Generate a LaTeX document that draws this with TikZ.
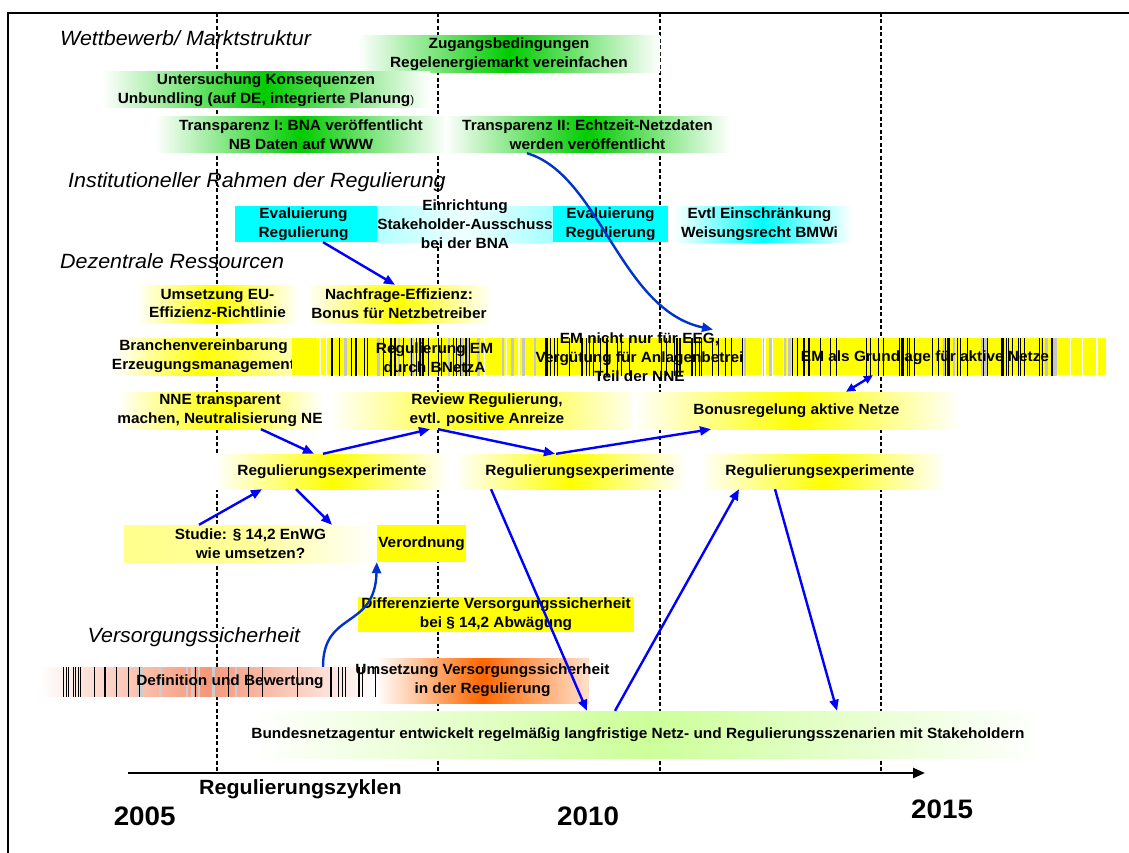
\documentclass[tikz,border=0pt]{standalone}
\usepackage{fontspec}
\setmainfont{Liberation Sans}[FakeStretch=1.04]
\usetikzlibrary{arrows.meta,calc}
\definecolor{grn}{RGB}{0,204,0}
\definecolor{lgrn}{RGB}{204,255,153}
\definecolor{org}{RGB}{255,102,0}
\definecolor{salm}{RGB}{246,150,120}
\definecolor{cyn}{RGB}{0,255,255}
\definecolor{ylw}{RGB}{255,255,0}
\definecolor{arrblue}{RGB}{0,0,255}
\definecolor{curveblue}{RGB}{0,51,204}
\begin{document}
\begin{tikzpicture}[x=1pt,y=-1pt,
  lb/.style={align=center,font=\bfseries\fontsize{14.8}{18.8}\selectfont,inner sep=0pt},
  box/.style={rectangle,inner sep=0pt,draw=none},
  gbox/.style={box,left color=white,right color=white,middle color=grn},
  ybox/.style={box,left color=white,right color=white,middle color=ylw},
  cbox/.style={box,left color=white,right color=white,middle color=cyn},
  hd/.style={anchor=base west,inner sep=0pt,font=\itshape\fontsize{20.6}{22}\selectfont},
  yr/.style={anchor=base west,inner sep=0pt,font=\bfseries\fontsize{26.7}{28}\selectfont},
  arr/.style={draw=arrblue,line width=2.4pt,-{Triangle[length=11pt,width=9pt]}},
  carr/.style={arr,draw=curveblue},
  dashline/.style={line width=1.8pt,dash pattern=on 4pt off 2.5pt}
]
\useasboundingbox (0,0) rectangle (1129,853);
\fill[white] (0,0) rectangle (1129,853);

% headings
\node[hd] (h1) at (60,46) {Wettbewerb/ Marktstruktur};
\node[hd] (h2) at (68,188) {Institutioneller Rahmen der Regulierung};
\node[hd] (h3) at (60,268) {Dezentrale Ressourcen};
\node[hd] (h4) at (87.5,642) {Versorgungssicherheit};

% frame and dashed cycle lines
\draw[line width=2.5pt] (8,853) -- (8,13) -- (1129,13);
\foreach \x in {217,438,660,881} \draw[dashline] (\x,13) -- (\x,773);

% Wettbewerb
\node[gbox,minimum width=302pt,minimum height=37pt,label={[lb]center:{Zugangsbedingungen\\Regelenergiemarkt vereinfachen}}] (zug) at (509,54.5) {};
\node[gbox,minimum width=328pt,minimum height=36pt,label={[lb]center:{Untersuchung Konsequenzen\\Unbundling (auf DE, integrierte Planung{\mdseries\fontsize{11}{11}\selectfont )}}}] (unb) at (266,90) {};
\node[gbox,minimum width=292pt,minimum height=36pt,label={[lb]center:{Transparenz I: BNA veröffentlicht\\NB Daten auf WWW}}] (tr1) at (301,135) {};
\node[gbox,minimum width=285pt,minimum height=36pt,label={[lb]center:{Transparenz II: Echtzeit-Netzdaten\\werden veröffentlicht}}] (tr2) at (587.5,135) {};

% Institutioneller Rahmen
\node[box,fill=cyn,minimum width=142pt,minimum height=36pt,label={[lb,xshift=-2.5pt]center:{Evaluierung\\Regulierung}}] (eval1) at (306,224) {};
\node[box,left color=cyn!30,right color=cyn!35,middle color=cyn!6,minimum width=176pt,minimum height=36pt,label={[lb]center:{Einrichtung\\Stakeholder-Ausschuss\\bei der BNA}}] (einr) at (465,224) {};
\node[box,fill=cyn,minimum width=115pt,minimum height=36pt,label={[lb]center:{Evaluierung\\Regulierung}}] (eval2) at (610.5,224) {};
\node[cbox,minimum width=179pt,minimum height=36pt,label={[lb,xshift=-3pt]center:{Evtl Einschränkung\\Weisungsrecht BMWi}}] (evtl) at (762.5,224) {};

% Dezentrale Ressourcen
\node[ybox,minimum width=163pt,minimum height=37pt,label={[lb]center:{Umsetzung EU-\\Effizienz-Richtlinie}}] (ums) at (217.5,303.5) {};
\node[ybox,minimum width=186pt,minimum height=37pt,label={[lb]center:{Nachfrage-Effizienz:\\Bonus für Netzbetreiber}}] (nach) at (399,303.5) {};

\node[box,left color=white,right color=ylw!30,middle color=ylw,minimum width=177pt,minimum height=37pt,label={[lb]center:{Branchenvereinbarung\\Erzeugungsmanagement}}] (bran) at (203.5,356.5) {};

\node[box,fill=ylw,minimum width=814pt,minimum height=37pt,
  path picture={
    \pgfmathsetseed{3}
    \foreach \a/\b/\n in {40/180/10,180/245/5,450/500/5,500/770/8}{
      \foreach \i in {1,...,\n}{
        \pgfmathsetmacro\sx{\a+(\b-\a)*rnd}
        \fill[gray!45] ($(path picture bounding box.north west)+(\sx,0)$) rectangle ++(2.5,40);
      }}
    \foreach \a/\b/\n in {0/38/5,180/245/5,450/500/6,770/814/5}{
      \foreach \i in {1,...,\n}{
        \pgfmathsetmacro\sx{\a+(\b-\a)*rnd}
        \draw[white,line width=1pt] ($(path picture bounding box.north west)+(\sx,0)$) -- ++(0,40);
      }}
    \foreach \a/\b/\n in {38/180/30,245/450/40,500/770/50}{
      \foreach \i in {1,...,\n}{
        \pgfmathsetmacro\sx{\a+(\b-\a)*rnd}
        \draw[black,line width=0.6pt] ($(path picture bounding box.north west)+(\sx,0)$) -- ++(0,40);
      }}
  }] (emband) at (699,356.5) {};
\node[lb] (regem) at (434.5,358) {Regulierung EM\\durch BNetzA};
\node[lb] (emnicht) at (639.5,357) {EM nicht nur für EEG,\\Vergütung für Anlagenbetrei\\Teil der NNE};
\node[lb] (emaktiv) at (925,358) {EM als Grundlage für aktive Netze};

\node[ybox,minimum width=206pt,minimum height=37pt,label={[lb]center:{NNE transparent\\machen, Neutralisierung NE}}] (nne) at (220,410.5) {};
\node[ybox,minimum width=314pt,minimum height=37pt,label={[lb]center:{Review Regulierung,\\evtl. positive Anreize}}] (rev) at (487,410.5) {};
\node[ybox,minimum width=329pt,minimum height=37pt,label={[lb]center:{Bonusregelung aktive Netze}}] (bonus) at (796.5,410.5) {};

\node[ybox,minimum width=234pt,minimum height=35pt,label={[lb]center:{Regulierungsexperimente}}] (reg1) at (332,471.5) {};
\node[ybox,minimum width=231pt,minimum height=35pt,label={[lb,xshift=9.5pt]center:{Regulierungsexperimente}}] (reg2) at (570.5,471.5) {};
\node[ybox,minimum width=246pt,minimum height=35pt,label={[lb,xshift=-3pt]center:{Regulierungsexperimente}}] (reg3) at (823,471.5) {};

\node[box,left color=ylw!45,right color=white,middle color=ylw!40,minimum width=253pt,minimum height=37pt,label={[lb]center:{Studie: § 14,2 EnWG\\wie umsetzen?}}] (studie) at (250.5,543.5) {};
\node[box,fill=ylw,minimum width=89pt,minimum height=37pt,label={[lb]center:{Verordnung}}] (verord) at (421.5,543.5) {};

% Versorgungssicherheit
\node[box,fill=ylw,minimum width=276pt,minimum height=35pt,label={[lb]center:{Differenzierte Versorgungssicherheit\\bei § 14,2 Abwägung}}] (diff) at (496,614.5) {};

\node[box,left color=white,right color=white,middle color=salm,minimum width=337pt,minimum height=29pt,
  path picture={
    \pgfmathsetseed{5}
    \foreach \i in {1,...,10}{
      \pgfmathsetmacro\sx{93+112*rnd}
      \fill[gray!40] ($(path picture bounding box.north west)+(\sx,0)$) rectangle ++(2.5,32);
    }
    \foreach \a/\b/\n in {0/93/14,93/282/6,282/337/10}{
      \foreach \i in {1,...,\n}{
        \pgfmathsetmacro\sx{\a+(\b-\a)*rnd}
        \draw[black,line width=0.6pt] ($(path picture bounding box.north west)+(\sx,0)$) -- ++(0,32);
      }}
  },
  label={[lb,xshift=22.5pt]center:{Definition und Bewertung}}] (defin) at (207.5,681.5) {};
\node[box,left color=white,right color=white!80!org,middle color=org,minimum width=213pt,minimum height=45pt,label={[lb]center:{Umsetzung Versorgungssicherheit\\in der Regulierung}}] (umsvs) at (482.5,680.5) {};

\node[box,left color=white,right color=white,middle color=lgrn,minimum width=785pt,minimum height=47pt,label={[lb,xshift=-9.5pt]center:{Bundesnetzagentur entwickelt regelmäßig langfristige Netz- und Regulierungsszenarien mit Stakeholdern}}] (bund) at (647.5,734.5) {};

% time axis
\coordinate (axs) at (128,773);
\coordinate (axe) at (925,773);
\draw[line width=2.5pt,-{Triangle[length=12pt,width=10pt]}] (axs) -- (axe);
\node[anchor=base west,inner sep=0pt,font=\bfseries\fontsize{20.6}{22}\selectfont] (zyk) at (199,794) {Regulierungszyklen};
\node[yr] (y05) at (113.6,825) {2005};
\node[yr] (y10) at (557,825) {2010};
\node[yr] (y15) at (911,818) {2015};

% arrows
\draw[arr] ([xshift=17pt]eval1.south) -- ([xshift=-4pt]nach.north);
\draw[carr] ([xshift=-60.5pt]tr2.south) .. controls (600,175) and (620,310) .. ([xshift=73.5pt,yshift=3pt]emnicht.north);
\draw[arr] ([xshift=41pt]nne.south) -- ([xshift=-18pt]reg1.north);
\draw[arr] ([xshift=-9pt]reg1.north) -- ([xshift=-57pt]rev.south);
\draw[arr] ([xshift=-49pt]rev.south) -- ([xshift=-15.5pt]reg2.north);
\draw[arr] ([xshift=-14.5pt]reg2.north) -- ([xshift=-85.5pt]bonus.south);
\draw[arr,{Triangle[length=9pt,width=8pt]}-{Triangle[length=9pt,width=8pt]}] ([xshift=49.5pt]bonus.north) -- ([xshift=174pt]emband.south);
\draw[arr] ([xshift=-51.5pt]studie.north) -- ([xshift=-70pt]reg1.south);
\draw[arr] ([xshift=-36pt]reg1.south) -- ([xshift=81.5pt]studie.north);
\draw[arr] ([xshift=-79.5pt]reg2.south) -- ([xshift=-60.5pt]bund.north);
\draw[arr] ([xshift=-32.5pt]bund.north) -- ([xshift=-84pt]reg3.south);
\draw[arr] ([xshift=-48pt]reg3.south) -- ([xshift=189.5pt]bund.north);
\draw[carr] ([xshift=115.5pt]defin.north) .. controls (323,610) and (375,630) .. (verord.south west);
\end{tikzpicture}
\end{document}
